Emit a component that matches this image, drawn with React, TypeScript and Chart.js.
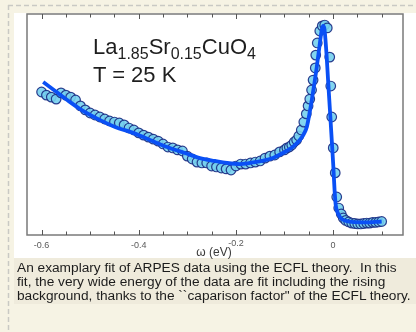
import React, { useEffect, useRef } from 'react';
import { Chart, registerables } from 'chart.js';

Chart.register(...registerables);

// Measured ARPES spectrum: binding energy (eV) and intensity (arb. units)
const energy = [
  -0.6, -0.59, -0.58, -0.57, -0.56, -0.55, -0.54, -0.53, -0.52, -0.51,
  -0.5, -0.49, -0.48, -0.47, -0.46, -0.45, -0.44, -0.43, -0.42, -0.41,
  -0.4, -0.39, -0.38, -0.37, -0.36, -0.35, -0.34, -0.33, -0.32, -0.31,
  -0.3, -0.29, -0.28, -0.27, -0.26, -0.25, -0.24, -0.23, -0.22, -0.21,
  -0.2, -0.19, -0.18, -0.17, -0.16, -0.15, -0.14, -0.13, -0.12, -0.11,
  -0.1, -0.095, -0.09, -0.085, -0.08, -0.075, -0.0705, -0.0654, -0.0602, -0.0551,
  -0.0514, -0.0479, -0.0442, -0.0411, -0.0366, -0.0356, -0.0325, -0.0273, -0.0222, -0.0171,
  -0.0119, -0.0068, -0.0047, -0.0027, 0.0004, 0.0045, 0.0076, 0.0117, 0.0169, 0.021,
  0.0261, 0.0323, 0.0384, 0.0446, 0.0508, 0.0569, 0.0631, 0.0693, 0.0754, 0.0816,
  0.0878, 0.0939, 0.1001,
];
const intensity = [
  64.7, 63.3, 62.4, 61.5, 64.3, 63.3, 62.4, 61.1, 58.4, 56.6,
  55.2, 54.3, 53.4, 52.5, 51.6, 51.1, 50.7, 49.8, 48.4, 47.5,
  46.2, 45.2, 44.3, 43.4, 42.5, 41.2, 39.8, 39.4, 38.5, 38.0,
  35.7, 34.4, 33.0, 32.6, 32.6, 31.2, 30.8, 30.3, 29.9, 29.4,
  31.2, 32.1, 32.1, 32.6, 33.0, 33.5, 34.8, 35.7, 36.2, 37.6,
  38.5, 39.4, 39.8, 40.7, 42.1, 43.0, 44.8, 47.5, 51.1, 54.8,
  58.4, 61.5, 65.6, 70.1, 75.6, 81.4, 86.9, 92.3, 94.6, 95.0,
  93.7, 80.5, 67.4, 53.4, 39.4, 28.1, 17.2, 12.2, 9.5, 7.7,
  6.6, 5.9, 5.4, 5.2, 5.0, 5.0, 5.2, 5.4, 5.4, 5.7,
  5.7, 5.9, 6.1,
];

// ECFL fit curve
const fitEnergy = [
  -0.5967, -0.572, -0.5473, -0.5206, -0.4795, -0.4487, -0.4117, -0.3767, -0.3418, -0.3048,
  -0.274, -0.2431, -0.2185, -0.1918, -0.1712, -0.1465, -0.1239, -0.1034, -0.089, -0.0787,
  -0.0684, -0.0602, -0.054, -0.0479, -0.0438, -0.0386, -0.0335, -0.0284, -0.0232, -0.0206,
  -0.0181, -0.014, -0.0099, -0.0058, -0.0027, 0.0004, 0.0031, 0.0055, 0.0097, 0.0158,
  0.024, 0.0384, 0.0651, 0.1001,
];
const fitIntensity = [
  69.2, 65.2, 61.1, 57.0, 52.0, 48.9, 46.2, 43.0, 39.8, 37.1,
  34.8, 33.5, 32.6, 32.1, 32.6, 33.5, 34.8, 37.1, 38.9, 40.7,
  43.0, 45.7, 48.9, 55.7, 61.1, 68.3, 76.0, 84.6, 92.8, 94.6,
  93.7, 83.7, 68.8, 54.3, 43.0, 31.7, 20.4, 13.6, 10.0, 7.7,
  6.6, 5.9, 5.7, 6.1,
];

const majorTicks = [-0.6, -0.4, -0.2, 0];
const tickLabels = ['-0.6', '-0.4', '-0.2', '0'];
const minorTicks = [-0.55, -0.5, -0.45, -0.35, -0.3, -0.25, -0.15, -0.1, -0.05, 0.05, 0.1];
const xTitle = 'ω (eV)';

const captionLines = [
  'An examplary fit of ARPES data using the ECFL theory.  In this',
  'fit, the very wide energy of the data are fit including the rising',
  'background, thanks to the ``caparison factor" of the ECFL theory.',
];

const FONT = '"Liberation Sans", Arial, Helvetica, sans-serif';

// Page panels, plot frame with inward ticks, and the energy axis labels
const framePlugin = {
  id: 'arpesFrame',
  beforeDraw(chart: any) {
    const { ctx, width, height } = chart;
    ctx.save();
    ctx.fillStyle = '#f6f3e4';
    ctx.fillRect(0, 0, width, height);
    ctx.fillStyle = '#ffffff';
    ctx.fillRect(14, 13, width - 14, 245);
    ctx.fillStyle = '#efebdc';
    ctx.fillRect(14, 258, width - 14, 46);
    ctx.strokeStyle = '#c9c9c4';
    ctx.lineWidth = 1.5;
    ctx.setLineDash([5, 3]);
    ctx.beginPath();
    ctx.moveTo(8, 5.5);
    ctx.lineTo(width, 5.5);
    ctx.moveTo(8.5, 5);
    ctx.lineTo(8.5, height);
    ctx.stroke();
    ctx.restore();
  },
  afterDraw(chart: any) {
    const { ctx, chartArea } = chart;
    const xs = chart.scales.x;
    const { left, right, top, bottom } = chartArea;
    ctx.save();
    ctx.strokeStyle = '#7a7a7a';
    ctx.lineWidth = 1.5;
    ctx.strokeRect(left, top, right - left, bottom - top);
    ctx.lineWidth = 1;
    ctx.strokeStyle = '#555555';
    const tick = (v: number, len: number) => {
      const px = Math.round(xs.getPixelForValue(v)) + 0.5;
      ctx.beginPath();
      ctx.moveTo(px, bottom);
      ctx.lineTo(px, bottom - len);
      ctx.moveTo(px, top);
      ctx.lineTo(px, top + len);
      ctx.stroke();
    };
    majorTicks.forEach((v) => tick(v, 5));
    minorTicks.forEach((v) => tick(v, 3.5));

    ctx.fillStyle = '#5a5a5a';
    ctx.font = `9px ${FONT}`;
    ctx.textAlign = 'center';
    ctx.textBaseline = 'middle';
    majorTicks.forEach((v, i) => {
      const px = xs.getPixelForValue(v);
      ctx.fillText(tickLabels[i], px, v === -0.2 ? 244 : 246);
    });
    ctx.fillStyle = '#3a3a3a';
    ctx.font = `12px ${FONT}`;
    ctx.fillText(xTitle, 214, 253);
    ctx.restore();
  },
};

export default function App() {
  const canvasRef = useRef<HTMLCanvasElement | null>(null);

  useEffect(() => {
    if (!canvasRef.current) return;
    const points = energy.map((e, i) => ({ x: e, y: intensity[i] }));
    const fit = fitEnergy.map((e, i) => ({ x: e, y: fitIntensity[i] }));
    const chart = new Chart(canvasRef.current, {
      type: 'scatter',
      data: {
        datasets: [
          {
            label: 'ECFL fit',
            data: fit,
            showLine: true,
            borderColor: '#0a50f5',
            borderWidth: 3.8,
            pointRadius: 0,
            cubicInterpolationMode: 'monotone',
            order: 0,
          },
          {
            label: 'ARPES data',
            data: points,
            showLine: false,
            pointRadius: 4.8,
            pointBackgroundColor: 'rgba(118, 208, 238, 0.9)',
            pointBorderColor: 'rgba(24, 42, 130, 0.9)',
            pointBorderWidth: 1.2,
            order: 1,
          },
        ],
      },
      options: {
        responsive: false,
        animation: false,
        devicePixelRatio: 1,
        layout: { padding: { left: 27, top: 14, right: 13, bottom: 97 } },
        plugins: { legend: { display: false }, tooltip: { enabled: false } },
        scales: {
          x: { type: 'linear', min: -0.63, max: 0.144, display: false },
          y: { type: 'linear', min: 0, max: 100, display: false },
        },
      },
      plugins: [framePlugin],
    } as any);
    return () => chart.destroy();
  }, []);

  const subStyle: React.CSSProperties = { fontSize: '16px', verticalAlign: '-5px' };

  return (
    <div style={{ position: 'absolute', left: 0, top: 0, width: 416, height: 332, overflow: 'hidden' }}>
      <canvas ref={canvasRef} width={416} height={332} style={{ position: 'absolute', left: 0, top: 0, display: 'block' }} />
      <div
        style={{
          position: 'absolute', left: 93, top: 36, fontFamily: FONT, fontSize: '22px',
          lineHeight: '22px', color: '#1e1e1e', whiteSpace: 'nowrap',
        }}
      >
        La<span style={subStyle}>1.85</span>Sr<span style={subStyle}>0.15</span>CuO<span style={subStyle}>4</span>
      </div>
      <div
        style={{
          position: 'absolute', left: 93, top: 64, fontFamily: FONT, fontSize: '22px',
          lineHeight: '22px', color: '#1e1e1e', whiteSpace: 'nowrap',
        }}
      >
        T = 25 K
      </div>
      <div
        style={{
          position: 'absolute', left: 17, top: 261, fontFamily: FONT, fontSize: '13.7px',
          lineHeight: '14px', color: '#1c1c1c', whiteSpace: 'pre',
        }}
      >
        {captionLines.map((line, i) => (
          <div key={i}>{line}</div>
        ))}
      </div>
    </div>
  );
}
